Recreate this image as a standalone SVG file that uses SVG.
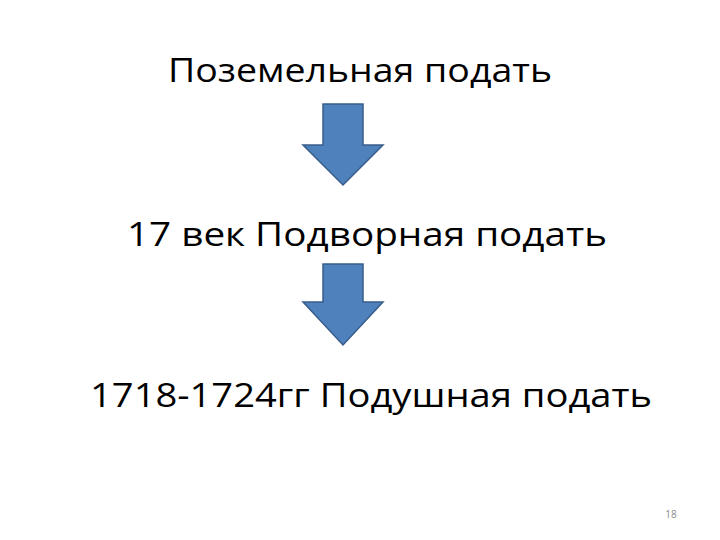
<svg xmlns="http://www.w3.org/2000/svg" width="720" height="540" viewBox="0 0 720 540">
<style>
.t{font-family:"Open Sans","Liberation Sans","DejaVu Sans",sans-serif;font-size:33px;fill:#000;text-anchor:middle}
.arr{fill:#4F81BD;stroke:#385D8A;stroke-width:1.5;stroke-linejoin:miter}
.pg{font-family:"Open Sans","Liberation Sans",sans-serif;font-size:10px;fill:#8c8c8c;text-anchor:middle}
</style>
<rect width="720" height="540" fill="#fff"/>
<g id="node1"><text class="t" x="360" y="82" textLength="384" lengthAdjust="spacingAndGlyphs">Поземельная подать</text></g>
<g id="node2"><text class="t" x="367" y="246" textLength="480" lengthAdjust="spacingAndGlyphs">17 век Подворная  подать</text></g>
<g id="node3"><text class="t" x="371" y="407" textLength="562" lengthAdjust="spacingAndGlyphs">1718-1724гг Подушная подать</text></g>
<g id="connectors">
<polygon class="arr" points="323,104 363,104 363,145 383,145 343,185 303,145 323,145"/>
<polygon class="arr" points="323,264 363,264 363,302 383,302 343,345 303,302 323,302"/>
</g>
<text class="pg" x="671" y="518">18</text>
</svg>
